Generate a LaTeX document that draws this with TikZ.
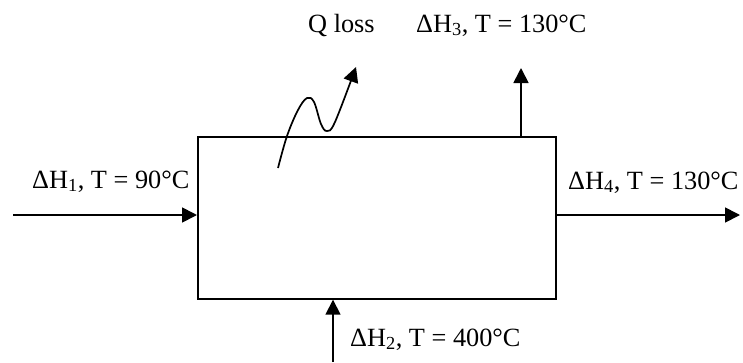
\documentclass[tikz,border=0pt]{standalone}
\usepackage{fontspec}
\setmainfont{Liberation Serif}
\usetikzlibrary{arrows.meta}
\begin{document}
\begin{tikzpicture}[x=1pt,y=-1pt,
  flow/.style={line width=1.7pt,-{Triangle[length=15pt,width=15pt]}},
  lbl/.style={anchor=base west,inner sep=0pt,font=\fontsize{26.3}{30}\selectfont}]
\useasboundingbox (0,0) rectangle (743,362);
\node[draw,line width=1.7pt,minimum width=358pt,minimum height=162pt,inner sep=0pt,anchor=north west] (box) at (197,136) {};
% inputs/outputs
\coordinate (inL) at (13,215);
\coordinate (outR) at (740,215);
\coordinate (outT) at (521,68);
\coordinate (inB) at (333,362);
\draw[flow] (inL) -- (inL -| box.west);
\draw[flow] (box.east |- outR) -- (outR);
\draw[flow] (outT |- box.north) -- (outT);
\draw[flow] (inB) -- (inB |- box.south);
% heat loss
\coordinate (q0) at (278,168);
\coordinate (q5) at (356,67);
\draw[flow] plot[smooth,tension=0.6] coordinates {(q0) (287,136) (298,110) (307,98) (314,102) (321,124) (327,131) (335,122) (q5)};
% labels
\node[lbl] (l1) at (32,188) {ΔH\textsubscript{1}, T = 90°C};
\node[lbl] (l4) at (568,189) {ΔH\textsubscript{4}, T = 130°C};
\node[lbl] (l2) at (350,346) {ΔH\textsubscript{2}, T = 400°C};
\node[lbl] (l3) at (416,32) {ΔH\textsubscript{3}, T = 130°C};
\node[lbl] (lq) at (308,32) {Q loss};
\end{tikzpicture}
\end{document}
